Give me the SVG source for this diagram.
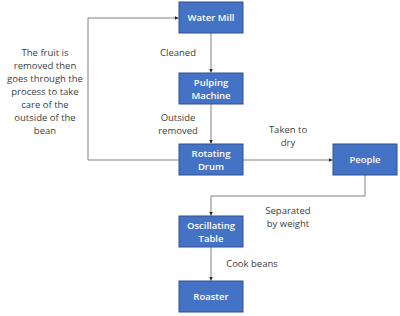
<svg xmlns="http://www.w3.org/2000/svg" width="400" height="316" viewBox="0 0 400 316">
<style>
.box{fill:#4472C4;stroke:#2F528F;stroke-width:1}
.bt{font-family:"Open Sans","Liberation Sans",sans-serif;font-size:9.5px;font-weight:600;fill:#ffffff;text-anchor:middle}
.lb{font-family:"Open Sans","Liberation Sans",sans-serif;font-size:9.5px;fill:#404040;text-anchor:middle}
.ln{fill:none;stroke:#808080;stroke-width:1}
</style>
<defs>
<marker id="ah" markerWidth="4" markerHeight="4" refX="4" refY="2" orient="auto" markerUnits="userSpaceOnUse">
<path d="M0,0 L4,2 L0,4 Z" fill="#202020"/>
</marker>
</defs>
<rect width="400" height="316" fill="#ffffff"/>
<g id="connectors">
<path class="ln" d="M179,160 H88 V18 H178.5" marker-end="url(#ah)"/>
<path class="ln" d="M211,33 V72.5" marker-end="url(#ah)"/>
<path class="ln" d="M211,104 V143.5" marker-end="url(#ah)"/>
<path class="ln" d="M243,160 H332.5" marker-end="url(#ah)"/>
<path class="ln" d="M365,175 V196 H211 V215.5" marker-end="url(#ah)"/>
<path class="ln" d="M211,247 V280.5" marker-end="url(#ah)"/>
</g>
<g id="water-mill"><rect class="box" x="179" y="2" width="64" height="31"/><text class="bt" x="211" y="21">Water Mill</text></g>
<g id="pulping-machine"><rect class="box" x="179" y="73" width="64" height="31"/><text class="bt" x="211" y="86">Pulping</text><text class="bt" x="211" y="99">Machine</text></g>
<g id="rotating-drum"><rect class="box" x="179" y="144" width="64" height="31"/><text class="bt" x="211" y="157">Rotating</text><text class="bt" x="211" y="170">Drum</text></g>
<g id="people"><rect class="box" x="333" y="144" width="64" height="31"/><text class="bt" x="365" y="163">People</text></g>
<g id="oscillating-table"><rect class="box" x="179" y="216" width="64" height="31"/><text class="bt" x="211" y="229">Oscillating</text><text class="bt" x="211" y="242">Table</text></g>
<g id="roaster"><rect class="box" x="179" y="281" width="64" height="31"/><text class="bt" x="211" y="300">Roaster</text></g>
<g id="labels">
<text class="lb" x="178" y="56">Cleaned</text>
<text class="lb" x="178" y="121">Outside</text>
<text class="lb" x="178" y="134">removed</text>
<text class="lb" x="288" y="133">Taken to</text>
<text class="lb" x="288" y="146">dry</text>
<text class="lb" x="288" y="214">Separated</text>
<text class="lb" x="288" y="227">by weight</text>
<text class="lb" x="252" y="267">Cook beans</text>
<text class="lb" x="45" y="56">The fruit is</text>
<text class="lb" x="45" y="69">removed then</text>
<text class="lb" x="45" y="82">goes through the</text>
<text class="lb" x="45" y="95">process to take</text>
<text class="lb" x="45" y="108">care of the</text>
<text class="lb" x="45" y="121">outside of the</text>
<text class="lb" x="45" y="134">bean</text>
</g>
</svg>
